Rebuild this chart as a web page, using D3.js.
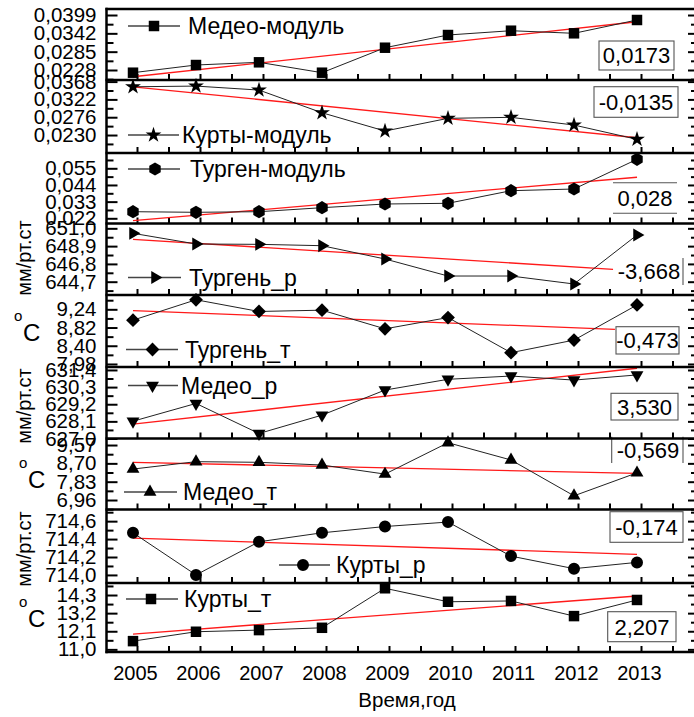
<!DOCTYPE html>
<html><head><meta charset="utf-8">
<script src="https://cdn.jsdelivr.net/npm/d3@7"></script>
<style>
body{margin:0;background:#fff}
svg{display:block}
text{font-family:"Liberation Sans",Arial,sans-serif;fill:#000}
</style>
</head><body>
<svg id="c" width="694" height="717"></svg>
<script>
// ---------------- DATA ----------------
const years = [2005, 2006, 2007, 2008, 2009, 2010, 2011, 2012, 2013];

const seriesNames = ["Медео-модуль", "Курты-модуль", "Турген-модуль", "Тургень_р", "Тургень_т",
                     "Медео_р", "Медео_т", "Курты_р", "Курты_т"];

const medeoModul  = [0.02196, 0.02435, 0.02519, 0.02196, 0.02973, 0.03368, 0.03502, 0.03421, 0.03835];
const kurtyModul  = [0.03546, 0.03564, 0.03461, 0.02875, 0.02403, 0.02731, 0.02757, 0.02558, 0.02189];
const turgenModul = [0.02636, 0.02596, 0.02636, 0.02900, 0.03144, 0.03190, 0.04022, 0.04134, 0.06094];
const turgenP     = [650.41, 649.15, 649.11, 648.95, 647.38, 645.37, 645.37, 644.43, 650.21];
const turgenT     = [8.99, 9.46, 9.19, 9.22, 8.79, 9.05, 8.24, 8.53, 9.34];
const medeoP      = [628.11, 629.25, 627.32, 628.50, 630.11, 630.80, 631.01, 630.75, 631.08];
const medeoT      = [8.43, 8.78, 8.75, 8.62, 8.19, 9.68, 8.86, 7.16, 8.25];
const kurtyP      = [714.47, 714.00, 714.37, 714.47, 714.54, 714.59, 714.21, 714.07, 714.14];
const kurtyT      = [11.50, 12.07, 12.17, 12.31, 14.71, 13.89, 13.94, 13.02, 14.00];

// linear trend (red line) end values
const trendStartVal = [0.0207, 0.03546, 0.0204, 649.70, 9.208, 627.92, 8.75, 714.41, 11.93];
const trendEndVal   = [0.0378, 0.0223, 0.0491, 646.16, 8.778, 631.51, 8.225, 714.23, 14.24];
const trendEndYear  = [2013, 2013, 2013, 2012.62, 2012.65, 2013, 2013, 2013, 2013];
const trendLabels   = ["0,0173", "-0,0135", "0,028", "-3,668", "-0,473", "3,530", "-0,569", "-0,174", "2,207"];

// y tick labels (values) per panel
const ticks1 = [0.0228, 0.0285, 0.0342, 0.0399];
const ticks2 = [0.0230, 0.0276, 0.0322, 0.0368];
const ticks3 = [0.022, 0.033, 0.044, 0.055];
const ticks4 = [644.7, 646.8, 648.9, 651.0];
const ticks5 = [7.98, 8.40, 8.82, 9.24];
const ticks6 = [627.0, 628.1, 629.2, 630.3, 631.4];
const ticks7 = [6.96, 7.83, 8.70, 9.57];
const ticks8 = [714.0, 714.2, 714.4, 714.6];
const ticks9 = [11.0, 12.1, 13.2, 14.3];
const tickDecimals = [4, 4, 3, 1, 2, 1, 2, 1, 1];
const yDomains = [[0.01969, 0.04177], [0.01836, 0.03721], [0.01857, 0.0651], [643.13, 651.57],
                  [7.91, 9.57], [627.0, 631.59], [6.51, 9.88], [713.91, 714.73], [10.84, 15.03]];

const unitTitles = ["", "", "", "мм/рт.ст", "°C", "мм/рт.ст", "°C", "мм/рт.ст", "°C"];
const xTitle = "Время,год";

// ---------------- LAYOUT / STYLE ----------------
const series = [medeoModul, kurtyModul, turgenModul, turgenP, turgenT, medeoP, medeoT, kurtyP, kurtyT];
const tickSets = [ticks1, ticks2, ticks3, ticks4, ticks5, ticks6, ticks7, ticks8, ticks9];
const markers = ["square", "star", "hexagon", "triRight", "diamond", "triDown", "triUp", "circle", "square"];
const bounds = [9, 80, 153, 223.5, 295, 367, 438.5, 509.5, 583, 652];
const leftX = 106.5, rightX = 698, tickShift = 4;
// legend: [lineStart, markerX, lineEnd, textX, y]
const legendPos = [[128, 154, 180, 188, 26], [128, 153.5, 179, 182, 135], [128, 155, 180, 190, 169],
                   [128, 155, 181, 189, 277.5], [126, 152.5, 178, 185, 349.5], [128, 152.5, 178, 181, 385.5],
                   [124, 150, 177, 183, 492], [279, 303, 330, 336, 565], [126, 151, 178, 184, 599]];
// value box: [style, x0, y0, x1, y1, textCx]
const boxPos = [["box", 599, 41, 674, 70, 636.5], ["box", 594, 86.7, 678, 117.3, 636],
                ["hlines", 613, 182.7, 677, 213.3, 645], ["rbar", 618, 258, 683, 285, 649],
                ["box", 616, 326.7, 679, 354, 647.5], ["box", 611, 393.3, 678, 420, 644.5],
                ["vbars", 611.7, 436.7, 683, 463, 648], ["box", 610, 511.7, 683, 542.3, 646.5],
                ["box", 607.7, 611.7, 676, 641.7, 642]];
// unit title position: [x, y]
const unitPos = [null, null, null, [31, 258], [23, 332], [31, 406], [28, 479], [31, 549], [28, 618]];

const svg = d3.select("#c");
const x = d3.scaleLinear().domain([2005, 2013]).range([133, 637]);
const halfYears = d3.range(2005, 2013.51, 0.5);
const locale = d3.formatLocale({decimal: ",", thousands: "", grouping: [3], currency: ["", ""]});

function markerPath(kind) {
  if (kind === "square") return [d3.symbol(d3.symbolSquare, 110)(), 0];
  if (kind === "star") return [d3.symbol(d3.symbolStar, 78)(), 0];
  if (kind === "circle") return [d3.symbol(d3.symbolCircle, 113)(), 0];
  if (kind === "diamond") return [d3.symbol(d3.symbolSquare, 95)(), 45];
  if (kind === "triUp") return [d3.symbol(d3.symbolTriangle, 72)(), 0];
  if (kind === "triDown") return [d3.symbol(d3.symbolTriangle, 72)(), 180];
  if (kind === "triRight") return [d3.symbol(d3.symbolTriangle, 72)(), 90];
  if (kind === "hexagon") {
    const r = 6.6;
    const pts = d3.range(6).map(k => { const a = (-90 + 60 * k) * Math.PI / 180; return [r * Math.cos(a), r * Math.sin(a)]; });
    return [d3.line()(pts) + "Z", 0];
  }
}

function styleAxis(g, fs) {
  g.select(".domain").remove();
  g.selectAll("line").attr("stroke", "#000").attr("stroke-width", 2);
  g.attr("font-family", '"Liberation Sans",Arial,sans-serif').attr("font-size", fs);
  g.selectAll("text").attr("fill", "#000");
}

series.forEach((vals, i) => {
  const top = bounds[i], bot = bounds[i + 1];
  const y = d3.scaleLinear().domain(yDomains[i]).range([bot, top]);
  const majors = tickSets[i];
  const step = majors[1] - majors[0];
  const minors = [];
  for (let k = -1; k < majors.length; k++) {
    const v = majors[0] + (k + 0.5) * step;
    if (v >= yDomains[i][0] && v <= yDomains[i][1]) minors.push(v);
  }
  const fmt = locale.format("." + tickDecimals[i] + "f");

  // left axis
  const gL = svg.append("g").attr("transform", `translate(${leftX},0)`)
    .call(d3.axisLeft(y).tickValues(majors).tickSizeInner(-11).tickSizeOuter(0).tickPadding(10).tickFormat(fmt));
  styleAxis(gL, 20.5);
  const gLm = svg.append("g").attr("transform", `translate(${leftX},0)`)
    .call(d3.axisLeft(y).tickValues(minors).tickSizeInner(-7).tickSizeOuter(0).tickFormat(""));
  styleAxis(gLm, 10);

  // right axis ticks
  const gR = svg.append("g").attr("transform", `translate(${rightX},0)`)
    .call(d3.axisRight(y).tickValues(majors).tickSizeInner(-10).tickSizeOuter(0).tickFormat(""));
  styleAxis(gR, 10);
  const gRm = svg.append("g").attr("transform", `translate(${rightX},0)`)
    .call(d3.axisRight(y).tickValues(minors).tickSizeInner(-7).tickSizeOuter(0).tickFormat(""));
  styleAxis(gRm, 10);

  // bottom ticks of panel
  const gB = svg.append("g").attr("transform", `translate(${tickShift},${bot})`)
    .call(d3.axisBottom(x).tickValues(halfYears).tickSizeInner(-6).tickSizeOuter(0).tickFormat(""));
  styleAxis(gB, 10);

  // trend line
  svg.append("line")
    .attr("x1", x(years[0])).attr("y1", y(trendStartVal[i]))
    .attr("x2", x(trendEndYear[i])).attr("y2", y(trendEndVal[i]))
    .attr("stroke", "#ff1a1a").attr("stroke-width", 1.3);

  // connecting line
  const pts = years.map((yr, k) => [yr, vals[k]]);
  svg.append("path").datum(pts)
    .attr("d", d3.line().x(d => x(d[0])).y(d => y(d[1])))
    .attr("fill", "none").attr("stroke", "#222").attr("stroke-width", 1);

  // markers
  const [mp, rot] = markerPath(markers[i]);
  svg.append("g").selectAll("path").data(pts).join("path")
    .attr("d", mp)
    .attr("transform", d => `translate(${x(d[0])},${y(d[1])}) rotate(${rot})`)
    .attr("fill", "#000");

  // legend
  const [l0, lm, l1, tx, ly] = legendPos[i];
  svg.append("line").attr("x1", l0).attr("x2", l1).attr("y1", ly).attr("y2", ly)
    .attr("stroke", "#444").attr("stroke-width", 1.3);
  svg.append("path").attr("d", mp).attr("transform", `translate(${lm},${ly}) rotate(${rot})`).attr("fill", "#000");
  svg.append("text").attr("x", tx).attr("y", ly + 8.2).attr("font-size", 23).text(seriesNames[i]);

  // value box
  const [st, bx0, by0, bx1, by1, tcx] = boxPos[i];
  const bg = svg.append("g").attr("fill", "none").attr("stroke", "#555").attr("stroke-width", 1.1);
  if (st === "box") {
    bg.append("rect").attr("x", bx0).attr("y", by0).attr("width", bx1 - bx0).attr("height", by1 - by0).attr("fill", "#fff");
  } else if (st === "hlines") {
    bg.append("line").attr("x1", bx0).attr("x2", bx1).attr("y1", by0).attr("y2", by0);
    bg.append("line").attr("x1", bx0).attr("x2", bx1).attr("y1", by1).attr("y2", by1);
  } else if (st === "rbar") {
    bg.append("line").attr("x1", bx1).attr("x2", bx1).attr("y1", by0).attr("y2", by1);
  } else if (st === "vbars") {
    bg.append("line").attr("x1", bx0).attr("x2", bx0).attr("y1", by0).attr("y2", by1);
    bg.append("line").attr("x1", bx1).attr("x2", bx1).attr("y1", by0).attr("y2", by1);
  }
  svg.append("text").attr("x", tcx).attr("y", (by0 + by1) / 2 + 7.9)
    .attr("text-anchor", "middle").attr("font-size", 22).text(trendLabels[i]);

  // unit title
  if (unitTitles[i]) {
    const [ux, uy] = unitPos[i];
    if (unitTitles[i] === "°C") {
      svg.append("text").attr("x", ux - 9).attr("y", uy - 11).attr("font-size", 15).text("o");
      svg.append("text").attr("x", ux).attr("y", uy + 8.6).attr("font-size", 24).text("C");
    } else {
      svg.append("text").attr("transform", `translate(${ux},${uy}) rotate(-90)`)
        .attr("text-anchor", "middle").attr("font-size", 20).text(unitTitles[i]);
    }
  }

  // x labels on last panel
  if (i === series.length - 1) {
    const gX = svg.append("g").attr("transform", `translate(${tickShift - 2},${bot})`)
      .call(d3.axisBottom(x).tickValues(years).tickSize(0).tickPadding(14).tickFormat(d3.format("d")));
    styleAxis(gX, 20);
  }
});

// panel borders
bounds.forEach(b => {
  svg.append("line").attr("x1", leftX - 1).attr("x2", rightX).attr("y1", b).attr("y2", b)
    .attr("stroke", "#000").attr("stroke-width", 2.5);
});
svg.append("line").attr("x1", leftX).attr("x2", leftX).attr("y1", bounds[0] - 1.2).attr("y2", bounds[bounds.length - 1] + 1.2)
  .attr("stroke", "#000").attr("stroke-width", 2.5);

// x title
svg.append("text").attr("x", 407).attr("y", 707).attr("text-anchor", "middle").attr("font-size", 20.5).text(xTitle);
</script>
</body></html>
